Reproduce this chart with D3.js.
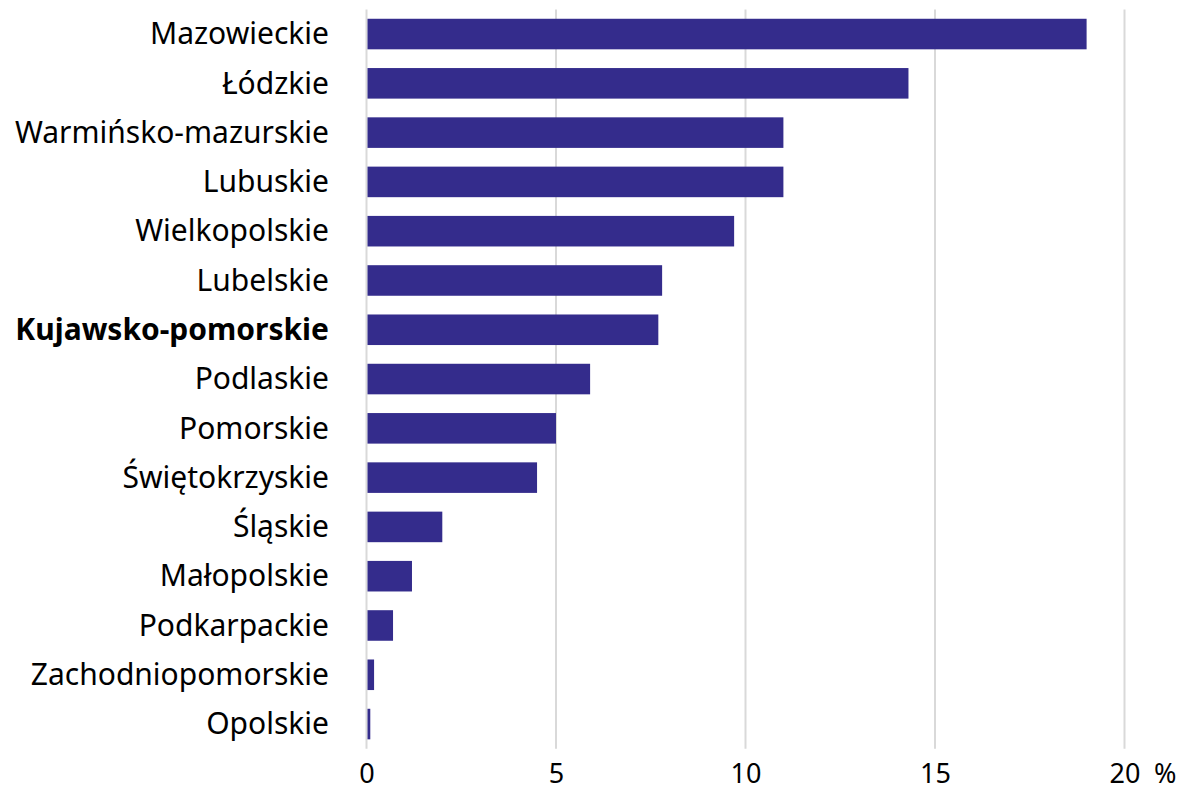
<!DOCTYPE html>
<html>
<head>
<meta charset="utf-8">
<script src="https://cdn.jsdelivr.net/npm/d3@7"></script>
<style>
  body { margin: 0; background: #fff; }
  text { font-family: "Noto Sans", "Open Sans", sans-serif; fill: #000; }
</style>
</head>
<body>
<div id="chart"></div>
<script>
var regions = ["Mazowieckie", "Łódzkie", "Warmińsko-mazurskie", "Lubuskie", "Wielkopolskie",
  "Lubelskie", "Kujawsko-pomorskie", "Podlaskie", "Pomorskie", "Świętokrzyskie",
  "Śląskie", "Małopolskie", "Podkarpackie", "Zachodniopomorskie", "Opolskie"];
var values = [19.0, 14.3, 11.0, 11.0, 9.7, 7.8, 7.7, 5.9, 5.0, 4.5, 2.0, 1.2, 0.7, 0.2, 0.1];
var xTicks = [0, 5, 10, 15, 20];
var highlight = "Kujawsko-pomorskie";

var width = 1184;
var height = 791;
var barColor = "#342c8c";
var gridColor = "#d9d9d9";

var data = regions.map((r, i) => ({ name: r, value: values[i] }));

/* Scales */
var x = d3.scaleLinear()
  .domain([0, 20])
  .range([366.5, 1124.5]);

var y = d3.scaleBand()
  .domain(regions)
  .range([9.4, 748.7])
  .paddingInner(0.38)
  .paddingOuter(0.19);

var svg = d3.select("#chart").append("svg")
  .attr("width", width)
  .attr("height", height);

/* Gridlines */
svg.append("g")
  .selectAll("line")
  .data(xTicks).enter()
  .append("line")
  .attr("x1", d => x(d))
  .attr("x2", d => x(d))
  .attr("y1", y.range()[0])
  .attr("y2", y.range()[1])
  .attr("stroke", gridColor)
  .attr("stroke-width", 2);

/* Bars */
svg.append("g")
  .selectAll("rect")
  .data(data).enter()
  .append("rect")
  .attr("x", x(0) + 1)
  .attr("y", d => y(d.name))
  .attr("width", d => x(d.value) - x(0) - 1)
  .attr("height", y.bandwidth())
  .attr("fill", barColor);

/* Category labels */
var yAxis = d3.axisLeft(y).tickSize(0).tickPadding(0);
var gy = svg.append("g")
  .attr("transform", "translate(329,0)")
  .call(yAxis);
gy.select(".domain").remove();
gy.selectAll("text")
  .attr("font-size", 30)
  .attr("dy", "0.34em")
  .style("font-family", "'Noto Sans', 'Open Sans', sans-serif")
  .style("font-weight", d => d === highlight ? "bold" : "normal");

/* X axis labels (baseline kept clear of the bottom edge) */
var xAxis = d3.axisBottom(x).tickValues(xTicks).tickSize(0).tickPadding(0);
var gx = svg.append("g")
  .attr("transform", "translate(0,783)")
  .call(xAxis);
gx.select(".domain").remove();
gx.selectAll("text")
  .attr("font-size", 27)
  .attr("dy", 0)
  .style("font-family", "'Noto Sans', 'Open Sans', sans-serif");

svg.append("text")
  .attr("x", 1154)
  .attr("y", 783)
  .attr("font-size", 27)
  .text("%");
</script>
</body>
</html>
